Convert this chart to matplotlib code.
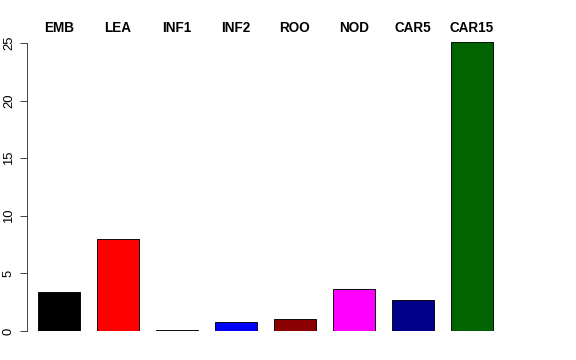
import matplotlib
matplotlib.use("Agg")
import matplotlib.pyplot as plt

# tissue values
tissues = ["EMB", "LEA", "INF1", "INF2", "ROO", "NOD", "CAR5", "CAR15"]
values = [3.4, 8.0, 0.05, 0.78, 1.08, 3.65, 2.65, 25.05]
colors = ["black", "red", "green", "blue", "darkred", "magenta", "darkblue", "darkgreen"]
yticks = [0, 5, 10, 15, 20, 25]

plt.rcParams['font.family'] = ['Liberation Sans', 'DejaVu Sans']

fig = plt.figure(figsize=(8, 5), dpi=72)
ax = fig.add_axes([27 / 576, 29 / 360, 533 / 576, (331 - 37.2) / 360])

pos = list(range(len(tissues)))
ax.bar(pos, values, width=42 / 59, color=colors, edgecolor="black", linewidth=0.9)

ax.set_xlim(-32 / 59, 501 / 59)
ax.set_ylim(0, 25.5)

for s in ["top", "right", "bottom"]:
    ax.spines[s].set_visible(False)
ax.spines["left"].set_bounds(0, 25)
ax.spines["left"].set_color("#333333")
ax.spines["left"].set_linewidth(0.9)

ax.set_xticks([])
ax.set_yticks(yticks)
ax.set_yticklabels([str(t) for t in yticks], rotation=90, va="center")
ax.tick_params(axis="y", length=7, pad=5, labelsize=13, color="#333333", width=0.9)

# tissue names in a row above the plot area
label_y = 1.0 + (37.2 - 28) / (331 - 37.2)
for p, name in zip(pos, tissues):
    ax.text(p, label_y, name, transform=ax.get_xaxis_transform(), ha="center",
            va="center", fontsize=13.5, fontweight="bold")

fig.savefig("out.png", dpi=72)
